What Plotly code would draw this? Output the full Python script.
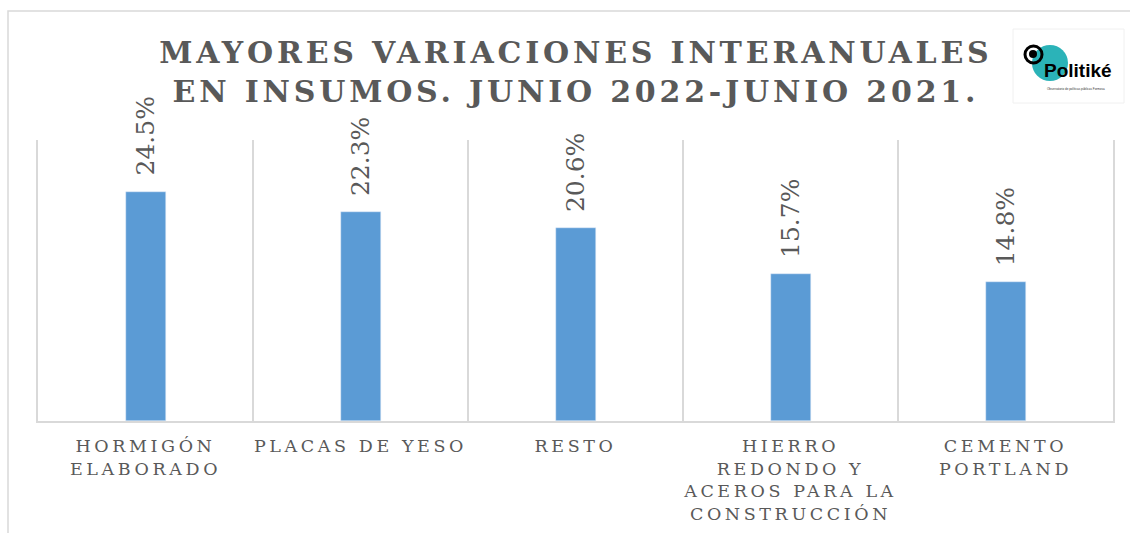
import plotly.graph_objects as go

categories = ["HORMIGÓN<br>ELABORADO", "PLACAS DE YESO", "RESTO",
              "HIERRO<br>REDONDO Y<br>ACEROS PARA LA<br>CONSTRUCCIÓN",
              "CEMENTO<br>PORTLAND"]
values = [24.5, 22.3, 20.6, 15.7, 14.8]
value_labels = ["24.5%", "22.3%", "20.6%", "15.7%", "14.8%"]
title_text = "MAYORES VARIACIONES INTERANUALES<br>EN INSUMOS. JUNIO 2022-JUNIO 2021."

W, H = 1130, 533
L, R, T, B = 38, 17, 140, 112
PW, PH = W - L - R, H - T - B


def px(x):
    return (x - L) / PW


def py(y):
    return (H - B - y) / PH


GRAY = "#595959"
GRID = "#d9d9d9"
SERIF = "DejaVu Serif"

fig = go.Figure()
fig.add_trace(go.Bar(x=categories, y=values, marker_color="#5B9BD5",
                     width=0.186, hoverinfo="skip"))

annotations = []
for c, v, t in zip(categories, values, value_labels):
    annotations.append(dict(x=c, y=v, xref="x", yref="y", text=t, showarrow=False,
                            textangle=-90, yanchor="bottom", xanchor="center",
                            yshift=14, font=dict(family=SERIF, size=25, color=GRAY)))

annotations.append(dict(x=0.5, y=py(33), xref="paper", yref="paper", text=title_text,
                        showarrow=False, xanchor="center", yanchor="top",
                        font=dict(family=SERIF, size=30, color=GRAY, weight="bold")))
annotations.append(dict(x=px(1042), y=py(83), xref="paper", yref="paper",
                        text="<b>Politiké</b>", showarrow=False, xanchor="left",
                        yanchor="bottom", font=dict(family="Liberation Sans", size=19, color="black")))
annotations.append(dict(x=px(1045), y=py(85), xref="paper", yref="paper",
                        text="Observatorio de políticas públicas Formosa", showarrow=False,
                        xanchor="left", yanchor="top",
                        font=dict(family="Liberation Sans", size=3, color="#333333")))

shapes = [
    dict(type="rect", xref="paper", yref="paper", x0=px(8), x1=px(1140), y0=py(11), y1=py(545),
         line=dict(color=GRID, width=1.5), fillcolor="rgba(0,0,0,0)", layer="below"),
    dict(type="rect", xref="paper", yref="paper", x0=px(1013), x1=px(1124), y0=py(29), y1=py(103),
         line=dict(color="#f0f0f0", width=1), fillcolor="white"),
    dict(type="circle", xref="paper", yref="paper", x0=px(1032), x1=px(1068), y0=py(45), y1=py(81),
         line=dict(width=0), fillcolor="#2bb3b8"),
    dict(type="circle", xref="paper", yref="paper", x0=px(1025), x1=px(1042), y0=py(46), y1=py(63),
         line=dict(color="black", width=3), fillcolor="rgba(0,0,0,0)"),
    dict(type="circle", xref="paper", yref="paper", x0=px(1029), x1=px(1037), y0=py(50), y1=py(58),
         line=dict(width=0), fillcolor="black"),
]

fig.update_layout(
    width=W, height=H,
    margin=dict(l=L, r=R, t=T, b=B, pad=0, autoexpand=False),
    paper_bgcolor="white", plot_bgcolor="white",
    showlegend=False,
    bargap=0,
    annotations=annotations,
    shapes=shapes,
    xaxis=dict(tickson="boundaries", showgrid=True, gridcolor=GRID, gridwidth=1.5,
               ticks="", showline=True, linecolor=GRID, linewidth=1.5,
               tickfont=dict(family=SERIF, size=17.5, color=GRAY), automargin=False,
               ticklabelstandoff=8, fixedrange=True),
    yaxis=dict(range=[0, 30], showgrid=False, showticklabels=False, zeroline=False,
               showline=True, mirror=True, linecolor=GRID, linewidth=1.5, ticks=""),
)

css = """
var st = document.createElement('style');
st.innerHTML = 'body {margin: 0 !important;} .xtick text {letter-spacing: 3.6px;} .annotation[data-index="5"] text {letter-spacing: 3.8px;}';
document.head.appendChild(st);
"""

fig.write_html("out.html", post_script=css, config={"displayModeBar": False})
